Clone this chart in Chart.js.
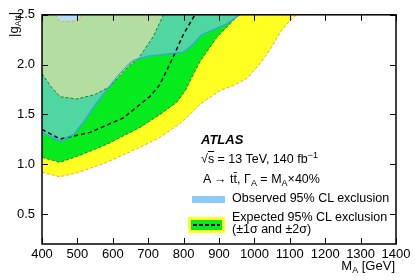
<!DOCTYPE html><html>
<meta charset="UTF-8">
<script src="https://cdn.jsdelivr.net/npm/chart.js@4/dist/chart.umd.min.js"></script>
<style>
 body{margin:0;background:#fff}
 #wrap{position:relative;width:415px;height:280px;overflow:hidden;font-family:"Liberation Sans",Arial,Helvetica,sans-serif;color:#000}
 #wrap canvas{position:absolute;left:0;top:0}
 .t{position:absolute;white-space:nowrap;font-size:12.5px;line-height:13px}
 .t sub{font-size:9px;vertical-align:-3px;line-height:0}
 .t sup{font-size:9px;vertical-align:5px;line-height:0}
</style>
<div id="wrap">
 <canvas id="c" width="415" height="280"></canvas>
 <div class="t" id="ytitle" style="left:7px;top:37px;font-size:13px;transform:rotate(-90deg);transform-origin:0 0">|g<sub>Att</sub>|</div>
 <div class="t" style="right:20px;top:259px;font-size:13px">M<sub>A</sub> [GeV]</div>
 <div class="t" style="left:201px;top:133px;font-size:13px;font-weight:bold;font-style:italic">ATLAS</div>
 <div class="t" style="left:201px;top:153px">&radic;<span style="text-decoration:overline">s</span> = 13 TeV, 140 fb<sup>&minus;1</sup></div>
 <div class="t" style="left:203px;top:173px">A &rarr; tt&#772;, &Gamma;<sub>A</sub> = M<sub>A</sub>&times;40%</div>
 <div style="position:absolute;left:192px;top:196px;width:33px;height:7px;background:#8ccbf5"></div>
 <div class="t" style="left:232px;top:192px">Observed 95% CL exclusion</div>
 <div style="position:absolute;left:188px;top:217px;width:37px;height:16px;background:#ffff22">
  <div style="position:absolute;left:3px;top:3px;width:31px;height:10px;background:#05eb1e">
   <div style="position:absolute;left:2px;top:4px;width:27px;height:1.5px;background:repeating-linear-gradient(90deg,#000 0 4px,transparent 4px 6px)"></div>
  </div>
 </div>
 <div class="t" style="left:232px;top:211px">Expected 95% CL exclusion</div>
 <div class="t" style="left:232px;top:223px">(&plusmn;1&sigma; and &plusmn;2&sigma;)</div>
</div>
<script>
// contours: [M_A in GeV, |g_Att|]
var band2Low = [[400,0.92],[450,0.875],[500,0.915],[583,1.02],[677,1.17],[733,1.27],[790,1.41],[818,1.50],[846,1.60],[870,1.66],[903,1.74],[940,1.79],[978,1.86],[1016,2.01],[1044,2.15],[1072,2.32],[1100,2.44],[1119,2.5]];
var band2High = [[437,2.5],[452,2.43],[498,2.44],[513,2.5]];
var band1Low = [[400,1.07],[450,1.02],[500,1.08],[583,1.20],[677,1.37],[733,1.50],[780,1.62],[805,1.74],[830,1.92],[846,2.03],[893,2.27],[950,2.48],[958,2.5]];
var band1High = [[400,1.91],[425,1.78],[451,1.678],[498,1.655],[550,1.70],[592,1.78],[644,1.98],[672,2.06],[714,2.28],[743,2.5]];
var expected = [[400,1.35],[451,1.253],[536,1.32],[630,1.466],[680,1.61],[705,1.68],[733,1.80],[771,2.08],[799,2.30],[832,2.5]];
var observed = [[400,1.32],[451,1.232],[489,1.30],[517,1.42],[551,1.60],[592,1.79],[620,1.91],[644,2.0],[660,2.045],[700,2.085],[799,2.125],[825,2.2],[851,2.30],[922,2.41],[959,2.5]];

var xTicks = [400,500,600,700,800,900,1000,1100,1200,1300,1400];
var yTicks = [0.5,1.0,1.5,2.0,2.5];
var X_MIN = 400, X_MAX = 1400, Y_MIN = 0.2, Y_MAX = 2.5;

function pts(a){ return a.map(function(p){ return {x:p[0], y:p[1]}; }); }
function rev(a){ return a.slice().reverse(); }

var yellowShape = pts(band2Low).concat(pts(rev(band2High)), [{x:X_MIN,y:Y_MAX}]);
var greenShape = pts(band1Low).concat(pts(rev(band1High)));
var obsShape = pts(observed).concat([{x:X_MIN,y:Y_MAX}]);

function area(data, color, order){
 return {data:data, fill:'shape', backgroundColor:color, borderColor:'transparent', borderWidth:0, pointRadius:0, order:order};
}
function curve(data, color, width, dash, order){
 return {data:pts(data), fill:false, borderColor:color, borderWidth:width, borderDash:dash, pointRadius:0, order:order};
}

var frame = {
 id:'frame',
 afterDraw: function(chart){
  var ctx = chart.ctx, a = chart.chartArea, x = chart.scales.x, y = chart.scales.y;
  ctx.save();
  ctx.strokeStyle = '#000';
  ctx.lineWidth = 1;
  ctx.beginPath();
  x.ticks.forEach(function(t){
   var p = Math.round(x.getPixelForValue(t.value)) + 0.5;
   ctx.moveTo(p, a.bottom); ctx.lineTo(p, a.bottom - 6);
   ctx.moveTo(p, a.top); ctx.lineTo(p, a.top + 6);
  });
  y.ticks.forEach(function(t){
   var p = Math.round(y.getPixelForValue(t.value)) + 0.5;
   ctx.moveTo(a.left, p); ctx.lineTo(a.left + 6, p);
   ctx.moveTo(a.right, p); ctx.lineTo(a.right - 6, p);
  });
  ctx.stroke();
  ctx.lineWidth = 1.5;
  ctx.strokeRect(a.left, a.top, a.right - a.left, a.bottom - a.top);
  ctx.restore();
 }
};

var tickFont = {family:'"Liberation Sans", Arial, sans-serif', size:13};

new Chart(document.getElementById('c'), {
 type:'line',
 data:{datasets:[
  curve(observed, '#3b9ef0', 1.3, [], 0),
  curve(expected, '#000', 1.5, [4,3], 1),
  curve(band1Low, '#1f7f2a', 1, [3,2], 2),
  curve(band1High, '#1f7f2a', 1, [3,2], 2),
  curve(band2Low, '#ffa31a', 1, [3,2], 3),
  curve(band2High, '#ffa31a', 1, [3,2], 3),
  area(obsShape, 'rgba(130,200,247,0.6)', 4),
  area(greenShape, '#05eb1e', 5),
  area(yellowShape, '#ffff22', 6)
 ]},
 options:{
  responsive:false,
  devicePixelRatio:1,
  animation:false,
  layout:{padding:{top:9, right:19, left:0, bottom:0}},
  plugins:{legend:{display:false}, tooltip:{enabled:false}},
  scales:{
   x:{type:'linear', min:X_MIN, max:X_MAX,
      afterBuildTicks:function(s){ s.ticks = xTicks.map(function(v){ return {value:v}; }); },
      afterFit:function(s){ s.height = 36; },
      grid:{display:false, drawTicks:false}, border:{display:false},
      ticks:{color:'#000', font:tickFont, padding:3, maxRotation:0, autoSkip:false,
             callback:function(v){ return String(v); }}},
   y:{type:'linear', min:Y_MIN, max:Y_MAX,
      afterBuildTicks:function(s){ s.ticks = yTicks.map(function(v){ return {value:v}; }); },
      afterFit:function(s){ s.width = 42; },
      grid:{display:false, drawTicks:false}, border:{display:false},
      ticks:{color:'#000', font:tickFont, padding:7, autoSkip:false,
             callback:function(v){ return v.toFixed(1); }}}
  }
 },
 plugins:[frame]
});
</script>
</html>
